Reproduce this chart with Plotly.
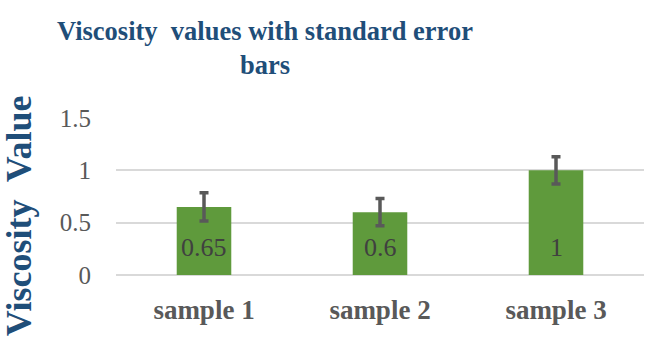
import plotly.graph_objects as go

categories = ["sample 1", "sample 2", "sample 3"]
values = [0.65, 0.6, 1.0]
errors = [0.135, 0.13, 0.13]
value_labels = ["0.65", "0.6", "1"]

SERIF = "Book Antiqua, Palatino Linotype, Liberation Serif, DejaVu Serif, serif"
BLUE = "#1F4E79"

fig = go.Figure()
fig.add_trace(go.Bar(
    x=categories, y=values,
    marker=dict(color="#5F9A3C", line=dict(width=0)),
    error_y=dict(type="data", array=errors, visible=True, color="#595959",
                 thickness=3.5, width=4.5),
))
for c, v, t in zip(categories, values, value_labels):
    fig.add_annotation(x=c, y=0, text=t, showarrow=False, yanchor="bottom",
                       yshift=11, font=dict(family=SERIF, size=26, color="#404040"))

# title
fig.add_annotation(xref="paper", yref="paper", x=0.283, y=1.449,
                   text="<b>Viscosity  values with standard error<br>bars</b>",
                   showarrow=False, xanchor="center", yanchor="middle",
                   font=dict(family=SERIF, size=26.5, color=BLUE))
# y-axis title
fig.add_annotation(xref="paper", yref="paper", x=-0.184, y=0.38, text="<b>Viscosity  Value</b>",
                   textangle=-90, showarrow=False, xanchor="center", yanchor="middle",
                   font=dict(family=SERIF, size=36, color=BLUE))

fig.update_layout(
    width=646, height=346,
    margin=dict(l=116, r=2, t=118, b=71),
    paper_bgcolor="white", plot_bgcolor="white",
    showlegend=False, bargap=0.69,
    yaxis=dict(range=[0, 1.5], tickvals=[0, 0.5, 1, 1.5], ticktext=["0", "0.5", "1", "1.5"],
               showgrid=True, gridcolor="#D9D9D9", gridwidth=1.5, zeroline=True,
               zerolinecolor="#D9D9D9", zerolinewidth=1.5, showline=False,
               ticklabelstandoff=24,
               tickfont=dict(family=SERIF, size=25, color="#595959")),
    xaxis=dict(showline=False, ticklabelstandoff=16,
               tickfont=dict(family=SERIF, size=27, color="#595959", weight="bold")),
)
fig.write_html("out.html")
